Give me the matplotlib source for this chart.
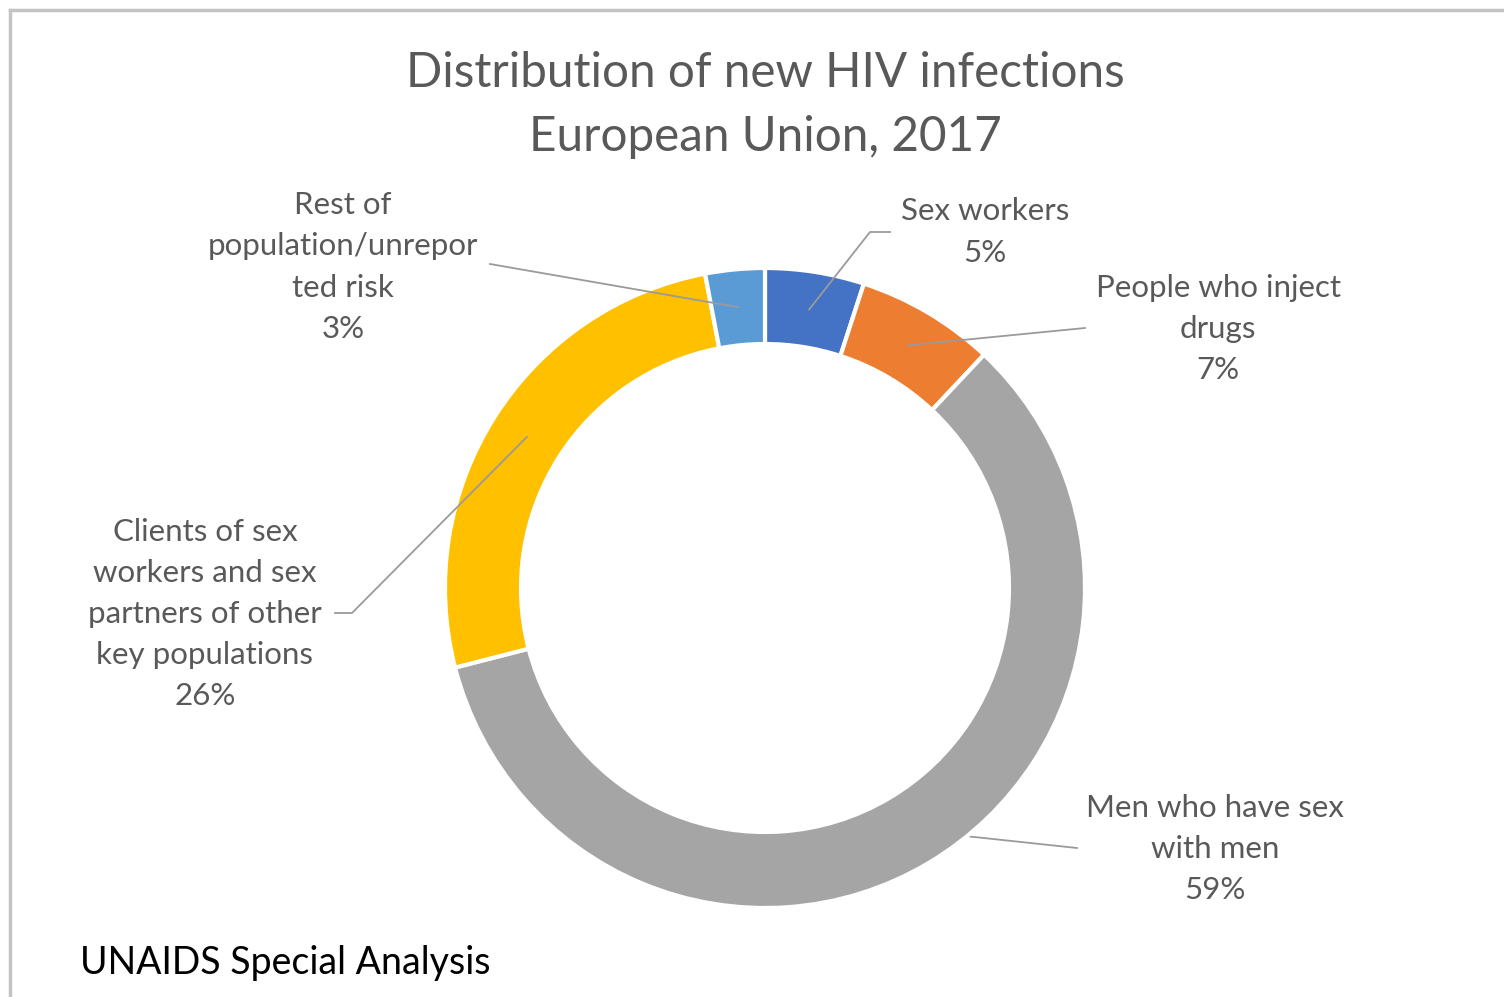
"""
Donut chart: distribution of new HIV infections, European Union 2017
"""

import numpy as np
import matplotlib.pyplot as plt
from matplotlib.lines import Line2D

labels = ["Sex workers", "People who inject\ndrugs", "Men who have sex\nwith men",
          "Clients of sex\nworkers and sex\npartners of other\nkey populations",
          "Rest of\npopulation/unrepor\nted risk"]
shares = [5, 7, 59, 26, 3]
colors = ["#4472C4", "#ED7D31", "#A5A5A5", "#FFC000", "#5B9BD5"]

W, H = 1504, 997
plt.rcParams['font.family'] = ['Lato', 'DejaVu Sans']

fig = plt.figure(figsize=(W / 100, H / 100), dpi=100)
ax = fig.add_axes([0, 0, 1, 1])

cx, cy, R, ring = 765, H - 588, 320, 76   # pixel layout
wedges, _ = ax.pie(shares, colors=colors, startangle=90, counterclock=False,
                   radius=R, center=(cx, cy),
                   wedgeprops=dict(width=ring, edgecolor='white', linewidth=3))
for w in wedges:
    w.set_zorder(2)
ax.set_xlim(0, W)
ax.set_ylim(0, H)
ax.set_aspect('equal')
ax.axis('off')

# label text centres and leader-line elbows (pixels from top)
text_pos = [(985, 232), (1218, 329), (1215, 849), (205, 614), (343, 267)]
leaders = [[(870, 232), (890, 232)],
           [(1085, 328)],
           [(965, 836), (1077, 848)],
           [(352, 613), (335, 613)],
           [(490, 264)]]
leader_z = [3, 3, 1, 3, 3]   # MSM leader starts hidden under its own wedge

for w, lab, val, (tx, ty), pts, z in zip(wedges, labels, shares, text_pos, leaders, leader_z):
    mid = np.deg2rad((w.theta1 + w.theta2) / 2)
    rm = R - ring / 2
    xs = [cx + rm * np.cos(mid)] + [p[0] for p in pts]
    ys = [cy + rm * np.sin(mid)] + [H - p[1] for p in pts]
    ax.plot(xs, ys, color='#9a9a9a', lw=1.3, zorder=z)
    ax.text(tx, H - ty, f"{lab}\n{val}%", ha='center', va='center',
            multialignment='center', fontsize=22.5, color='#595959',
            linespacing=1.57, zorder=4)

ax.text(765, H - 105, "Distribution of new HIV infections\nEuropean Union, 2017",
        ha='center', va='center', fontsize=34.3, color='#595959', linespacing=1.55)
ax.text(80, H - 963, "UNAIDS Special Analysis", ha='left', va='center',
        fontsize=27, color='black')

# thin frame on top and left edge
fig.add_artist(Line2D([10 / W, 1], [1 - 10 / H, 1 - 10 / H], color='#c4c4c4', lw=2.5))
fig.add_artist(Line2D([10 / W, 10 / W], [0, 1 - 10 / H], color='#c4c4c4', lw=2.5))

fig.savefig("out.png", dpi=100)
